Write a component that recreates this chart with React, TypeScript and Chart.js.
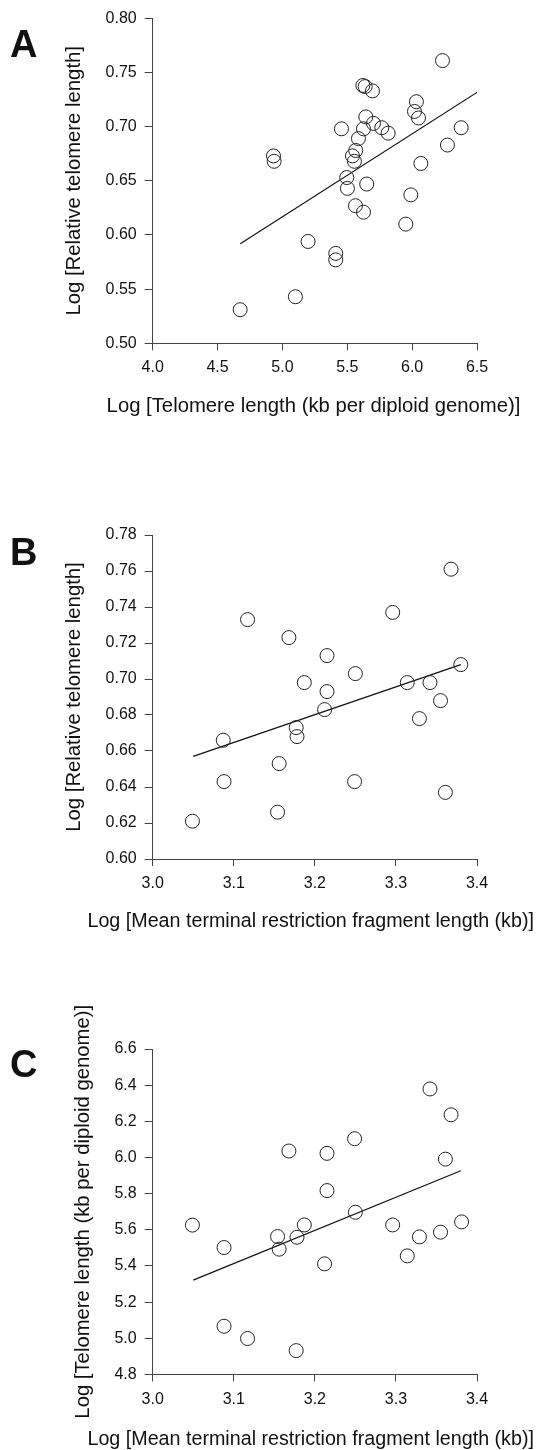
import React, { useEffect, useRef } from "react";
import { Chart, registerables } from "chart.js";

Chart.register(...registerables);

const FONT = "'Liberation Sans', Arial, Helvetica, sans-serif";

// ---- Panel A: Log relative telomere length vs Log telomere length (kb per diploid genome)
const A_X = [4.674, 5.100, 5.198, 5.411, 5.411, 4.931, 4.936, 5.455, 5.496, 5.501, 5.563, 5.625, 5.650, 5.540, 5.555, 5.565, 5.586, 5.625, 5.643, 5.620, 5.638, 5.694, 5.702, 5.766, 5.815, 6.033, 6.018, 6.049, 6.234, 6.378, 6.272, 6.067, 5.990, 5.951];
const A_Y = [0.531, 0.543, 0.594, 0.583, 0.577, 0.673, 0.668, 0.698, 0.653, 0.643, 0.627, 0.621, 0.647, 0.673, 0.668, 0.678, 0.689, 0.698, 0.709, 0.738, 0.737, 0.733, 0.703, 0.699, 0.694, 0.723, 0.714, 0.708, 0.761, 0.699, 0.683, 0.666, 0.637, 0.610];
const A_FIT_X = [4.675, 6.505];
const A_FIT_Y = [0.592, 0.732];
const A_XTICKS = [4.0, 4.5, 5.0, 5.5, 6.0, 6.5];
const A_YTICKS = [0.50, 0.55, 0.60, 0.65, 0.70, 0.75, 0.80];

// ---- Panel B: Log relative telomere length vs Log mean TRF length
const B_X = [3.049, 3.087, 3.088, 3.117, 3.154, 3.156, 3.168, 3.177, 3.178, 3.187, 3.212, 3.215, 3.215, 3.249, 3.250, 3.296, 3.314, 3.329, 3.342, 3.355, 3.361, 3.368, 3.380];
const B_Y = [0.621, 0.666, 0.643, 0.733, 0.626, 0.653, 0.723, 0.673, 0.668, 0.698, 0.683, 0.713, 0.693, 0.643, 0.703, 0.737, 0.698, 0.678, 0.698, 0.688, 0.637, 0.761, 0.708];
const B_FIT_X = [3.050, 3.380];
const B_FIT_Y = [0.657, 0.708];
const B_XTICKS = [3.0, 3.1, 3.2, 3.3, 3.4];
const B_YTICKS = [0.60, 0.62, 0.64, 0.66, 0.68, 0.70, 0.72, 0.74, 0.76, 0.78];

// ---- Panel C: Log telomere length (kb per diploid genome) vs Log mean TRF length
const C_X = [3.049, 3.088, 3.088, 3.117, 3.154, 3.156, 3.168, 3.178, 3.177, 3.187, 3.212, 3.215, 3.215, 3.249, 3.250, 3.296, 3.314, 3.329, 3.342, 3.355, 3.361, 3.368, 3.381];
const C_Y = [5.626, 5.502, 5.067, 4.999, 5.563, 5.493, 6.036, 5.559, 4.932, 5.627, 5.412, 6.023, 5.817, 6.104, 5.697, 5.627, 5.456, 5.561, 6.379, 5.587, 5.991, 6.236, 5.644];
const C_FIT_X = [3.050, 3.380];
const C_FIT_Y = [5.322, 5.927];
const C_XTICKS = [3.0, 3.1, 3.2, 3.3, 3.4];
const C_YTICKS = [4.8, 5.0, 5.2, 5.4, 5.6, 5.8, 6.0, 6.2, 6.4, 6.6];

const TITLE_TL = "Log [Telomere length (kb per diploid genome)]";
const TITLE_RTL = "Log [Relative telomere length]";
const TITLE_TRF = "Log [Mean terminal restriction fragment length (kb)]";

type PanelProps = {
  letter: string;
  xs: number[];
  ys: number[];
  fitX: number[];
  fitY: number[];
  xTicks: number[];
  yTicks: number[];
  xDec: number;
  yDec: number;
  xTitle: string;
  yTitle: string;
  xTitleSize: number;
  yTitleSize: number;
  top: number;
  height: number;
  areaTop: number;
  areaBottom: number;
  letterBaseline: number;
  xTitleCenter: number;
  xTitleBaseline: number;
  yTitleBaseline: number;
};

const AREA_LEFT = 152.7;
const AREA_RIGHT = 477;
const XSCALE_H = 40;

function Panel(p: PanelProps) {
  const ref = useRef<HTMLCanvasElement | null>(null);
  useEffect(() => {
    if (!ref.current) return;
    const decor = {
      id: "decor",
      afterDraw(chart: any) {
        const { ctx, chartArea } = chart;
        ctx.save();
        ctx.fillStyle = "#111";
        ctx.font = `bold 38px ${FONT}`;
        ctx.textAlign = "left";
        ctx.textBaseline = "alphabetic";
        ctx.fillText(p.letter, 10, p.letterBaseline - p.top);
        ctx.textAlign = "center";
        ctx.font = `${p.xTitleSize}px ${FONT}`;
        ctx.fillText(p.xTitle, p.xTitleCenter, p.xTitleBaseline - p.top);
        ctx.font = `${p.yTitleSize}px ${FONT}`;
        ctx.translate(p.yTitleBaseline, (chartArea.top + chartArea.bottom) / 2);
        ctx.rotate(-Math.PI / 2);
        ctx.fillText(p.yTitle, 0, 0);
        ctx.restore();
      },
    };
    const axisCommon = (tickLen: number) => ({
      grid: {
        display: true,
        drawOnChartArea: false,
        drawTicks: true,
        tickLength: tickLen,
        color: "#444",
        lineWidth: 1,
      },
      border: { display: true, color: "#444", width: 1 },
    });
    const chart = new Chart(ref.current, {
      type: "scatter",
      data: {
        datasets: [
          {
            data: p.xs.map((x, i) => ({ x, y: p.ys[i] })),
            pointStyle: "circle",
            pointRadius: 7,
            pointBorderWidth: 1,
            pointBorderColor: "#222",
            pointBackgroundColor: "rgba(0,0,0,0)",
            showLine: false,
          },
          {
            data: p.fitX.map((x, i) => ({ x, y: p.fitY[i] })),
            showLine: true,
            pointRadius: 0,
            borderColor: "#111",
            borderWidth: 1.2,
            fill: false,
          },
        ],
      },
      options: {
        animation: false,
        responsive: false,
        maintainAspectRatio: false,
        devicePixelRatio: 1,
        layout: {
          padding: {
            left: 0,
            right: 546 - AREA_RIGHT,
            top: p.areaTop - p.top,
            bottom: p.height - (p.areaBottom - p.top) - XSCALE_H,
          },
        },
        plugins: {
          legend: { display: false },
          tooltip: { enabled: false },
          title: { display: false },
        },
        scales: {
          x: {
            type: "linear",
            min: p.xTicks[0],
            max: p.xTicks[p.xTicks.length - 1],
            afterBuildTicks: (s: any) => {
              s.ticks = p.xTicks.map((v) => ({ value: v }));
            },
            afterFit: (s: any) => {
              s.height = XSCALE_H;
            },
            ticks: {
              callback: (v: any) => Number(v).toFixed(p.xDec),
              font: { family: FONT, size: 16 },
              color: "#111",
              padding: 8,
              maxRotation: 0,
              autoSkip: false,
            },
            ...axisCommon(7),
          },
          y: {
            type: "linear",
            min: p.yTicks[0],
            max: p.yTicks[p.yTicks.length - 1],
            afterBuildTicks: (s: any) => {
              s.ticks = p.yTicks.map((v) => ({ value: v }));
            },
            afterFit: (s: any) => {
              s.width = AREA_LEFT;
            },
            ticks: {
              callback: (v: any) => Number(v).toFixed(p.yDec),
              font: { family: FONT, size: 16 },
              color: "#111",
              padding: 8,
              autoSkip: false,
            },
            ...axisCommon(8),
          },
        },
      },
      plugins: [decor],
    } as any);
    return () => chart.destroy();
  }, []);
  return (
    <canvas
      ref={ref}
      width={546}
      height={p.height}
      style={{ position: "absolute", left: 0, top: p.top, width: 546, height: p.height }}
    />
  );
}

export default function App() {
  return (
    <div style={{ position: "absolute", left: 0, top: 0, width: 546, height: 1450, background: "#fff" }}>
      <Panel
        letter="A"
        xs={A_X}
        ys={A_Y}
        fitX={A_FIT_X}
        fitY={A_FIT_Y}
        xTicks={A_XTICKS}
        yTicks={A_YTICKS}
        xDec={1}
        yDec={2}
        xTitle={TITLE_TL}
        yTitle={TITLE_RTL}
        xTitleSize={20.3}
        yTitleSize={20.3}
        top={0}
        height={430}
        areaTop={18.3}
        areaBottom={343.3}
        letterBaseline={57}
        xTitleCenter={313.5}
        xTitleBaseline={411.6}
        yTitleBaseline={80}
      />
      <Panel
        letter="B"
        xs={B_X}
        ys={B_Y}
        fitX={B_FIT_X}
        fitY={B_FIT_Y}
        xTicks={B_XTICKS}
        yTicks={B_YTICKS}
        xDec={1}
        yDec={2}
        xTitle={TITLE_TRF}
        yTitle={TITLE_RTL}
        xTitleSize={19.7}
        yTitleSize={20.3}
        top={500}
        height={440}
        areaTop={535}
        areaBottom={859}
        letterBaseline={565}
        xTitleCenter={310.7}
        xTitleBaseline={927.3}
        yTitleBaseline={80}
      />
      <Panel
        letter="C"
        xs={C_X}
        ys={C_Y}
        fitX={C_FIT_X}
        fitY={C_FIT_Y}
        xTicks={C_XTICKS}
        yTicks={C_YTICKS}
        xDec={1}
        yDec={1}
        xTitle={TITLE_TRF}
        yTitle={TITLE_TL}
        xTitleSize={19.7}
        yTitleSize={20.3}
        top={995}
        height={455}
        areaTop={1049}
        areaBottom={1374.5}
        letterBaseline={1077}
        xTitleCenter={310.7}
        xTitleBaseline={1445}
        yTitleBaseline={89}
      />
    </div>
  );
}
